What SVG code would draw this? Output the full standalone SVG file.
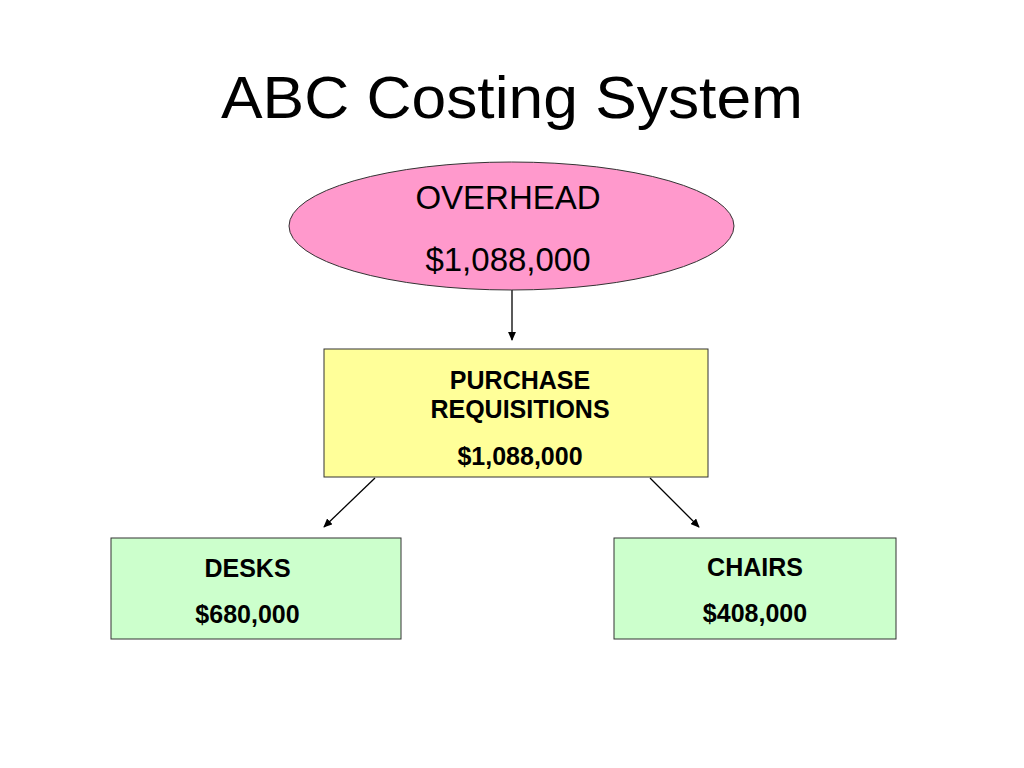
<svg xmlns="http://www.w3.org/2000/svg" width="1024" height="768" viewBox="0 0 1024 768">
<defs>
<style>
.t{font-family:"Liberation Sans",Arial,sans-serif;fill:#000;text-anchor:middle}
.b{font-weight:bold;font-size:25px}
.shape{stroke:#333;stroke-width:1}
.conn{stroke:#000;stroke-width:1.3;fill:none;marker-end:url(#ah)}
</style>
<marker id="ah" viewBox="0 0 10 10" refX="9" refY="5" markerWidth="9" markerHeight="8" markerUnits="userSpaceOnUse" orient="auto" preserveAspectRatio="none">
<path d="M0,0 L10,5 L0,10 z" fill="#000"/>
</marker>
</defs>
<rect width="1024" height="768" fill="#fff"/>
<text class="t" x="512" y="118" font-size="60" textLength="582" lengthAdjust="spacingAndGlyphs">ABC Costing System</text>
<g id="connectors">
<line class="conn" x1="512" y1="290" x2="512" y2="340"/>
<line class="conn" x1="375" y1="478" x2="324" y2="527"/>
<line class="conn" x1="650" y1="478" x2="699" y2="527"/>
</g>
<g id="overhead">
<ellipse class="shape" cx="511.5" cy="226" rx="222.5" ry="64" fill="#FF99CC"/>
<text class="t" x="508" y="209" font-size="33">OVERHEAD</text>
<text class="t" x="508" y="271" font-size="33">$1,088,000</text>
</g>
<g id="purchase">
<rect class="shape" x="324" y="349" width="384" height="128" fill="#FFFF99"/>
<text class="t b" x="520" y="389">PURCHASE</text>
<text class="t b" x="520" y="418">REQUISITIONS</text>
<text class="t b" x="520" y="465">$1,088,000</text>
</g>
<g id="desks">
<rect class="shape" x="111" y="538" width="290" height="101" fill="#CCFFCC"/>
<text class="t b" x="247.5" y="577">DESKS</text>
<text class="t b" x="247.5" y="623">$680,000</text>
</g>
<g id="chairs">
<rect class="shape" x="614" y="538" width="282" height="101" fill="#CCFFCC"/>
<text class="t b" x="755" y="576">CHAIRS</text>
<text class="t b" x="755" y="622">$408,000</text>
</g>
</svg>
